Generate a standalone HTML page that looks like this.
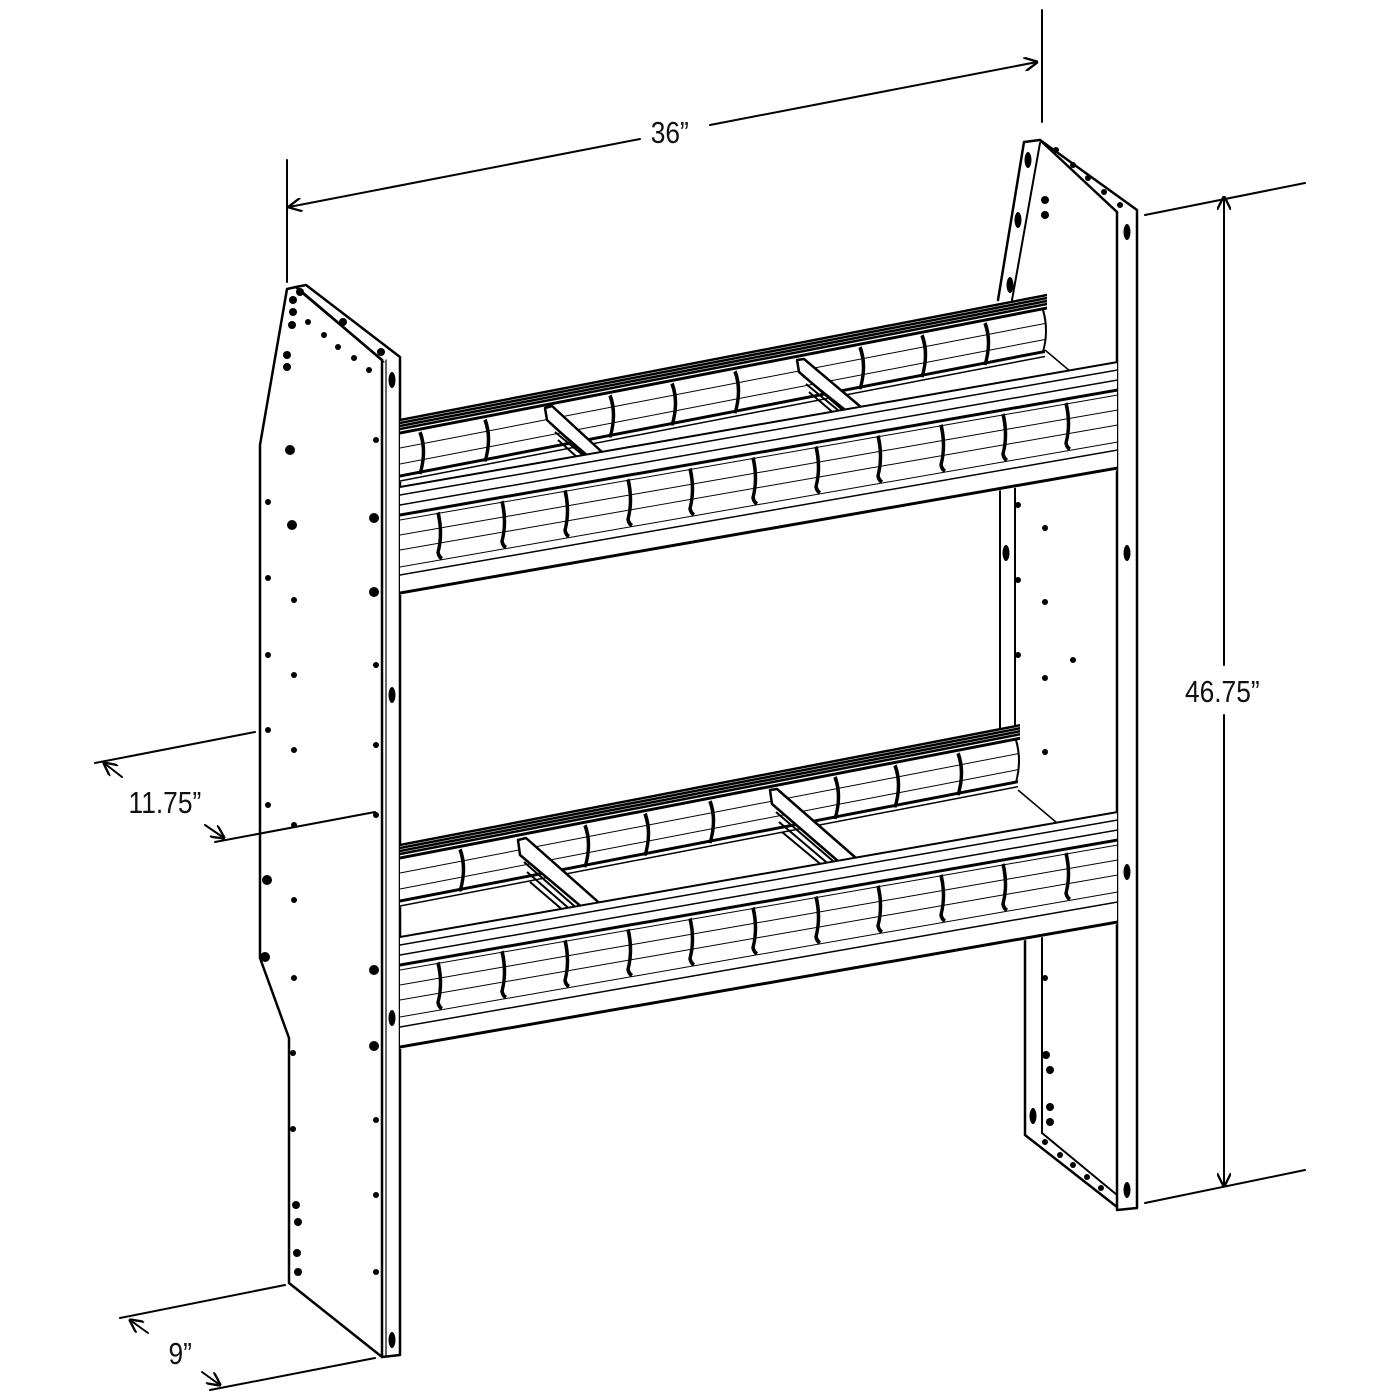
<!DOCTYPE html>
<html><head><meta charset="utf-8"><style>
html,body{margin:0;padding:0;background:#fff}
svg{display:block}
text{font-family:"Liberation Sans",Arial,sans-serif;font-size:31px;fill:#111}
</style></head><body>
<svg width="1400" height="1400" viewBox="0 0 1400 1400" xmlns="http://www.w3.org/2000/svg">
<defs>
<marker id="ar" viewBox="0 0 12 12" refX="11" refY="6" markerWidth="14" markerHeight="14" orient="auto-start-reverse" markerUnits="userSpaceOnUse">
<path d="M0,0 L12,6 L0,12" fill="none" stroke="#000" stroke-width="2"/>
</marker>
<g id="fbin"><path d="M0,32 q5,22 0,40 q1,5 4,7" fill="none" stroke="#000" stroke-width="3.5"/></g>
<g id="bbin"><path d="M0,16 q7,20 0,42" fill="none" stroke="#000" stroke-width="3.5"/></g>
</defs>
<g fill="none" stroke="#000" stroke-width="2" stroke-linecap="round" stroke-linejoin="round">

<line x1="287" y1="160" x2="287" y2="282"/>
<line x1="1042" y1="10" x2="1042" y2="122"/>
<line x1="289" y1="207" x2="640" y2="139" marker-start="url(#ar)"/>
<line x1="710" y1="125" x2="1037" y2="62" marker-end="url(#ar)"/>
<line x1="1145" y1="215" x2="1305" y2="183"/>
<line x1="1145" y1="1203" x2="1305" y2="1170"/>
<line x1="1224" y1="197" x2="1224" y2="665" marker-start="url(#ar)"/>
<line x1="1224" y1="715" x2="1224" y2="1186" marker-end="url(#ar)"/>
<line x1="95" y1="763" x2="255" y2="732"/>
<line x1="215" y1="842" x2="375" y2="812"/>
<line x1="104" y1="763" x2="122" y2="777" marker-start="url(#ar)"/>
<line x1="205" y1="825" x2="224" y2="838" marker-end="url(#ar)"/>
<line x1="120" y1="1318" x2="285" y2="1285"/>
<line x1="210" y1="1390" x2="375" y2="1358"/>
<line x1="130" y1="1320" x2="148" y2="1333" marker-start="url(#ar)"/>
<line x1="202" y1="1372" x2="220" y2="1385" marker-end="url(#ar)"/>

<path d="M382,360 L296,287 L287,289 L260,445 L260,958 L289,1038 L289,1283 L382,1357" stroke-width="2.5"/>
<path d="M306,285 L400,357 L400,1355 L382,1357 L382,360 L296,287 Z" stroke-width="2.5"/>
<line x1="386" y1="360" x2="386" y2="1356" stroke-width="1.2"/>
<line x1="298" y1="290" x2="384" y2="362" stroke-width="1.2"/>
<path d="M1117,212 L1040,140 L1024,142 L998,300" stroke-width="2.5"/>
<path d="M1040,140 L1137,210 L1137,1208 L1117,1210 L1117,212" stroke-width="2.5"/>
<line x1="1040" y1="143" x2="1012" y2="300" stroke-width="2"/>
<line x1="1000" y1="475" x2="1000" y2="735"/>
<line x1="1015" y1="473" x2="1015" y2="730"/>
<path d="M1025,922 L1025,1135 L1117,1207" stroke-width="2.5"/>
<line x1="1042" y1="920" x2="1042" y2="1133"/>
<line x1="1042" y1="1133" x2="1117" y2="1195"/>
</g>

<g fill="#000">
<ellipse cx="392" cy="380" rx="3.5" ry="8"/><ellipse cx="392" cy="695" rx="3.5" ry="8"/>
<ellipse cx="392" cy="1018" rx="3.5" ry="8"/><ellipse cx="392" cy="1340" rx="3.5" ry="8"/>
<ellipse cx="1127" cy="232" rx="3.5" ry="8"/><ellipse cx="1127" cy="553" rx="3.5" ry="8"/>
<ellipse cx="1127" cy="872" rx="3.5" ry="8"/><ellipse cx="1127" cy="1190" rx="3.5" ry="8"/>
<ellipse cx="1006" cy="553" rx="3.5" ry="8"/><ellipse cx="1033" cy="1116" rx="3.5" ry="8"/>
<ellipse cx="1010" cy="285" rx="3.5" ry="8"/><ellipse cx="1018" cy="220" rx="3.5" ry="8"/><ellipse cx="1028" cy="160" rx="3.5" ry="8"/>
<circle cx="290" cy="450" r="5"/><circle cx="292" cy="525" r="5"/><circle cx="374" cy="518" r="5"/><circle cx="374" cy="592" r="5"/>
<circle cx="267" cy="880" r="5"/><circle cx="265" cy="957" r="5"/><circle cx="374" cy="970" r="5"/><circle cx="374" cy="1046" r="5"/>
<circle cx="293" cy="300" r="4"/><circle cx="293" cy="312" r="4"/><circle cx="292" cy="325" r="4"/><circle cx="287" cy="355" r="4"/><circle cx="287" cy="367" r="4"/>
<circle cx="308" cy="322" r="3"/><circle cx="324" cy="335" r="3"/><circle cx="338" cy="347" r="3"/><circle cx="354" cy="358" r="3"/><circle cx="369" cy="370" r="3"/>
<circle cx="343" cy="322" r="4"/><circle cx="381" cy="352" r="4"/><circle cx="300" cy="292" r="4"/>
<circle cx="376" cy="440" r="3"/><circle cx="376" cy="665" r="3"/><circle cx="376" cy="745" r="3"/><circle cx="376" cy="815" r="3"/>
<circle cx="376" cy="1120" r="3"/><circle cx="376" cy="1195" r="3"/><circle cx="376" cy="1272" r="3"/>
<circle cx="268" cy="502" r="3"/><circle cx="268" cy="578" r="3"/><circle cx="268" cy="655" r="3"/><circle cx="268" cy="730" r="3"/><circle cx="268" cy="805" r="3"/>
<circle cx="294" cy="600" r="3"/><circle cx="294" cy="675" r="3"/><circle cx="294" cy="750" r="3"/><circle cx="294" cy="825" r="3"/><circle cx="294" cy="900" r="3"/><circle cx="294" cy="978" r="3"/>
<circle cx="293" cy="1053" r="3"/><circle cx="293" cy="1129" r="3"/>
<circle cx="296" cy="1205" r="4"/><circle cx="298" cy="1222" r="4"/><circle cx="297" cy="1253" r="4"/><circle cx="298" cy="1272" r="4"/>
<circle cx="1046" cy="1055" r="4"/><circle cx="1050" cy="1070" r="4"/><circle cx="1050" cy="1107" r="4"/><circle cx="1050" cy="1122" r="4"/>
<circle cx="1045" cy="528" r="3"/><circle cx="1045" cy="602" r="3"/><circle cx="1045" cy="678" r="3"/><circle cx="1045" cy="752" r="3"/><circle cx="1045" cy="978" r="3"/>
<circle cx="1018" cy="505" r="3"/><circle cx="1018" cy="580" r="3"/><circle cx="1018" cy="655" r="3"/><circle cx="1073" cy="660" r="3"/><circle cx="1045" cy="200" r="4"/><circle cx="1045" cy="215" r="4"/>
<circle cx="1045" cy="1142" r="3"/><circle cx="1060" cy="1155" r="3"/><circle cx="1073" cy="1165" r="3"/><circle cx="1087" cy="1177" r="3"/><circle cx="1101" cy="1188" r="3"/>
<circle cx="1056" cy="150" r="3"/><circle cx="1073" cy="165" r="3"/><circle cx="1088" cy="178" r="3"/><circle cx="1104" cy="192" r="3"/><circle cx="1120" cy="205" r="3"/>
</g>

<!-- UPPER SHELF back -->
<g fill="none" stroke="#000" transform="translate(400,420) skewY(-10.93)">
<rect x="0" y="0" width="647" height="62" fill="#fff" stroke="none"/>
<line x1="0" y1="0" x2="647" y2="0" stroke-width="2.5"/>
<line x1="0" y1="3" x2="647" y2="3" stroke-width="2.5"/>
<line x1="0" y1="6" x2="647" y2="6" stroke-width="2.5"/>
<line x1="0" y1="9" x2="647" y2="9" stroke-width="2.5"/>
<line x1="0" y1="13" x2="647" y2="13" stroke-width="3"/>
<line x1="0" y1="28" x2="645" y2="28" stroke-width="1"/>
<line x1="0" y1="44" x2="645" y2="44" stroke-width="1"/>
<line x1="0" y1="56" x2="645" y2="56" stroke-width="3"/>
<line x1="0" y1="61" x2="645" y2="61" stroke-width="1.5"/>
<path d="M643,14 q6,22 0,42" stroke-width="2"/>
<use href="#bbin" x="20"/><use href="#bbin" x="85"/><use href="#bbin" x="210"/><use href="#bbin" x="272"/><use href="#bbin" x="335"/><use href="#bbin" x="460"/><use href="#bbin" x="522"/><use href="#bbin" x="585"/>
</g>
<g fill="#fff" stroke="#000" stroke-width="2" stroke-linejoin="round">
<path d="M545,408 L552,406 L615,464 L598,467 L547,420 Z" stroke-width="2.5"/>
<path d="M551,424 L600,466 M555,432 L596,466 M558,440 L588,467" fill="none"/>
<path d="M797,360 L804,359 L868,413 L850,416 L799,372 Z" stroke-width="2.5"/>
<path d="M803,376 L852,415 M806,384 L844,415 M809,392 L836,415" fill="none"/>
<line x1="1045" y1="350" x2="1090" y2="388" stroke-width="1.5"/>
</g>
<g fill="none" stroke="#000" transform="translate(400,487) skewY(-9.88)">
<rect x="0" y="0" width="717" height="108" fill="#fff" stroke="none"/>
<line x1="0" y1="0" x2="717" y2="0" stroke-width="2"/>
<line x1="0" y1="8" x2="717" y2="8" stroke-width="1.5"/>
<line x1="0" y1="18" x2="717" y2="18" stroke-width="1.5"/>
<line x1="0" y1="28" x2="717" y2="28" stroke-width="3"/>
<line x1="0" y1="33" x2="717" y2="33" stroke-width="1"/>
<line x1="0" y1="48" x2="717" y2="48" stroke-width="1"/>
<line x1="0" y1="63" x2="717" y2="63" stroke-width="1"/>
<line x1="0" y1="80" x2="717" y2="80" stroke-width="1"/>
<line x1="0" y1="88" x2="717" y2="88" stroke-width="1.5"/>
<line x1="0" y1="106" x2="717" y2="106" stroke-width="3"/>
<use href="#fbin" x="38"/><use href="#fbin" x="102"/><use href="#fbin" x="165"/><use href="#fbin" x="228"/><use href="#fbin" x="290"/><use href="#fbin" x="353"/><use href="#fbin" x="416"/><use href="#fbin" x="478"/><use href="#fbin" x="541"/><use href="#fbin" x="603"/><use href="#fbin" x="666"/>
</g>

<!-- LOWER SHELF back -->
<g fill="none" stroke="#000" transform="translate(400,845) skewY(-10.93)">
<rect x="0" y="0" width="620" height="62" fill="#fff" stroke="none"/>
<line x1="0" y1="0" x2="620" y2="0" stroke-width="2.5"/>
<line x1="0" y1="3" x2="620" y2="3" stroke-width="2.5"/>
<line x1="0" y1="6" x2="620" y2="6" stroke-width="2.5"/>
<line x1="0" y1="9" x2="620" y2="9" stroke-width="2.5"/>
<line x1="0" y1="13" x2="620" y2="13" stroke-width="3"/>
<line x1="0" y1="28" x2="618" y2="28" stroke-width="1"/>
<line x1="0" y1="44" x2="618" y2="44" stroke-width="1"/>
<line x1="0" y1="56" x2="618" y2="56" stroke-width="3"/>
<line x1="0" y1="61" x2="618" y2="61" stroke-width="1.5"/>
<path d="M616,14 q6,22 0,42" stroke-width="2"/>
<use href="#bbin" x="60"/><use href="#bbin" x="185"/><use href="#bbin" x="245"/><use href="#bbin" x="310"/><use href="#bbin" x="435"/><use href="#bbin" x="495"/><use href="#bbin" x="558"/>
</g>
<g fill="#fff" stroke="#000" stroke-width="2" stroke-linejoin="round">
<path d="M518,840 L526,838 L614,916 L596,919 L520,855 Z" stroke-width="2.5"/>
<path d="M524,862 L588,918 M527,872 L580,918 M530,882 L572,918" fill="none"/>
<path d="M770,790 L777,789 L864,865 L846,868 L772,804 Z" stroke-width="2.5"/>
<path d="M776,812 L840,867 M779,822 L832,867 M782,832 L824,867" fill="none"/>
<line x1="1018" y1="790" x2="1063" y2="828" stroke-width="1.5"/>
</g>
<g fill="none" stroke="#000" transform="translate(400,937) skewY(-9.88)">
<rect x="0" y="0" width="717" height="112" fill="#fff" stroke="none"/>
<line x1="0" y1="0" x2="717" y2="0" stroke-width="2"/>
<line x1="0" y1="8" x2="717" y2="8" stroke-width="1.5"/>
<line x1="0" y1="18" x2="717" y2="18" stroke-width="1.5"/>
<line x1="0" y1="28" x2="717" y2="28" stroke-width="3"/>
<line x1="0" y1="33" x2="717" y2="33" stroke-width="1"/>
<line x1="0" y1="48" x2="717" y2="48" stroke-width="1"/>
<line x1="0" y1="63" x2="717" y2="63" stroke-width="1"/>
<line x1="0" y1="80" x2="717" y2="80" stroke-width="1"/>
<line x1="0" y1="90" x2="717" y2="90" stroke-width="1.5"/>
<line x1="0" y1="110" x2="717" y2="110" stroke-width="3"/>
<use href="#fbin" x="38"/><use href="#fbin" x="102"/><use href="#fbin" x="165"/><use href="#fbin" x="228"/><use href="#fbin" x="290"/><use href="#fbin" x="353"/><use href="#fbin" x="416"/><use href="#fbin" x="478"/><use href="#fbin" x="541"/><use href="#fbin" x="603"/><use href="#fbin" x="666"/>
</g>

<g transform="scale(0.85,1)">
<text x="788" y="143" text-anchor="middle">36”</text>
<text x="1438" y="702" text-anchor="middle">46.75”</text>
<text x="194" y="813" text-anchor="middle">11.75”</text>
<text x="212" y="1364" text-anchor="middle">9”</text>
</g>
</svg>
</body></html>
